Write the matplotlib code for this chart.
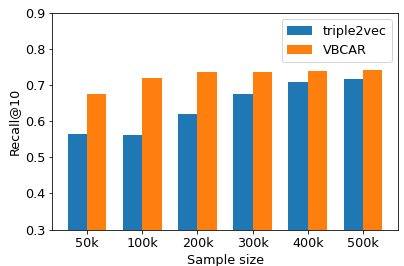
import numpy as np
import matplotlib
matplotlib.use("Agg")
import matplotlib.pyplot as plt

sizes = ["50k", "100k", "200k", "300k", "400k", "500k"]
triple2vec = [0.565, 0.562, 0.620, 0.675, 0.709, 0.717]
vbcar = [0.675, 0.720, 0.736, 0.736, 0.739, 0.742]

plt.rcParams['font.size'] = 12.8

x = np.arange(len(sizes))
width = 0.35

fig, ax = plt.subplots(figsize=(404 / 72, 266 / 72), dpi=72)
ax.bar(x - width / 2, triple2vec, width, label="triple2vec", color="#1f77b4")
ax.bar(x + width / 2, vbcar, width, label="VBCAR", color="#ff7f0e")
ax.set_ylim(0.3, 0.9)
ax.set_xticks(x)
ax.set_xticklabels(sizes)
ax.set_xlabel("Sample size")
ax.set_ylabel("Recall@10")
ax.legend(loc="upper right")
fig.subplots_adjust(left=0.129, right=0.985, top=0.951, bottom=0.137)
fig.savefig("out.png")
